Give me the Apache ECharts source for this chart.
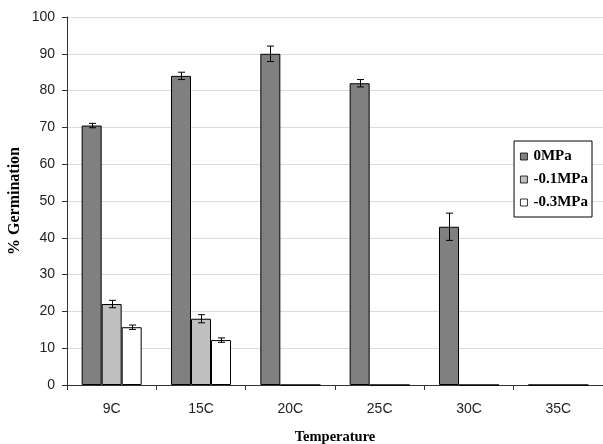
<!DOCTYPE html>
<html>
<head>
<meta charset="utf-8">
<script src="https://cdn.jsdelivr.net/npm/echarts@6/dist/echarts.min.js"></script>
<style>
  html, body { margin: 0; padding: 0; background: #fff; }
  #chart { width: 603px; height: 444px; }
</style>
</head>
<body>
<div id="chart"></div>
<script>
// Germination (%) by temperature and water potential
const temperatures = ['9C', '15C', '20C', '25C', '30C', '35C']
const seriesNames = ['0MPa', '-0.1MPa', '-0.3MPa']

const germ0 = [70.5, 84, 90, 82, 43, 0]
const germ01 = [22, 18, 0, 0, 0, 0]
const germ03 = [15.7, 12.2, 0, 0, 0, 0]

const err0 = [0.6, 1, 2.1, 1, 3.7, 0]
const err01 = [1, 1.1, 0, 0, 0, 0]
const err03 = [0.6, 0.6, 0, 0, 0, 0]

const yTicks = [0, 10, 20, 30, 40, 50, 60, 70, 80, 90, 100]

const barColors = ['#808080', '#c0c0c0', '#ffffff']
const BAR_W = 20

const chart = echarts.init(document.getElementById('chart'))

const values = [germ0, germ01, germ03]
const errors = [err0, err01, err03]

// error bar points: [category, mean, err, seriesIdx]
const errData = []
values.forEach((vals, s) => {
  vals.forEach((v, i) => {
    if (errors[s][i] > 0) errData.push([i, v, errors[s][i], s])
  })
})

const barSeries = seriesNames.map((name, s) => ({
  name,
  type: 'bar',
  data: values[s],
  barWidth: BAR_W,
  barGap: '0%',
  itemStyle: { color: barColors[s], borderColor: '#000', borderWidth: 1 },
  emphasis: { disabled: true }
}))

const option = {
  animation: false,
  grid: { left: 67, right: 0, top: 17, bottom: 59, outerBoundsMode: 'none' },
  legend: {
    orient: 'vertical',
    right: 11,
    top: 141,
    data: seriesNames,
    backgroundColor: '#fff',
    borderColor: '#000',
    borderWidth: 1,
    padding: [8, 4, 7, 6],
    itemWidth: 7,
    itemHeight: 7,
    itemGap: 8,
    icon: 'rect',
    itemStyle: { borderWidth: 0.8 },
    textStyle: {
      fontFamily: 'Liberation Serif',
      fontWeight: 'bold',
      fontSize: 15,
      lineHeight: 15,
      color: '#000',
      padding: [0, 0, 0, 1]
    }
  },
  xAxis: {
    type: 'category',
    data: temperatures,
    name: 'Temperature',
    nameLocation: 'middle',
    nameGap: 45,
    nameMoveOverlap: false,
    nameTextStyle: {
      fontFamily: 'Liberation Serif',
      fontWeight: 'bold',
      fontSize: 14.5,
      color: '#000'
    },
    axisLine: { lineStyle: { color: '#333', width: 1 } },
    axisTick: { show: true, length: 5, lineStyle: { color: '#333' } },
    axisLabel: {
      margin: 17,
      fontFamily: 'Liberation Sans',
      fontSize: 14,
      color: '#222'
    }
  },
  yAxis: {
    type: 'value',
    min: 0,
    max: 100,
    interval: 10,
    name: '% Germination',
    nameLocation: 'middle',
    nameGap: 44,
    nameMoveOverlap: false,
    nameTextStyle: {
      fontFamily: 'Liberation Serif',
      fontWeight: 'bold',
      fontSize: 16,
      color: '#000'
    },
    axisLine: { show: true, lineStyle: { color: '#333', width: 1 } },
    axisTick: { show: true, length: 5, lineStyle: { color: '#333' } },
    axisLabel: {
      margin: 12,
      fontFamily: 'Liberation Sans',
      fontSize: 14,
      color: '#222',
      formatter: v => (yTicks.includes(v) ? String(v) : '')
    },
    splitLine: { show: true, lineStyle: { color: '#dcdcdc', width: 1 } }
  },
  series: [
    ...barSeries,
    {
      type: 'custom',
      name: 'err',
      data: errData,
      z: 10,
      renderItem: (params, api) => {
        const cat = api.value(0)
        const mean = api.value(1)
        const e = api.value(2)
        const s = api.value(3)
        const off = (s - 1) * BAR_W
        const top = api.coord([cat, mean + e])
        const bot = api.coord([cat, mean - e])
        const x = Math.round(top[0] + off) + 0.5
        const cap = 3.5
        const style = { stroke: '#000', lineWidth: 1 }
        return {
          type: 'group',
          children: [
            { type: 'line', shape: { x1: x, y1: top[1], x2: x, y2: bot[1] }, style },
            { type: 'line', shape: { x1: x - cap, y1: top[1], x2: x + cap, y2: top[1] }, style },
            { type: 'line', shape: { x1: x - cap, y1: bot[1], x2: x + cap, y2: bot[1] }, style }
          ]
        }
      }
    }
  ]
}

chart.setOption(option)
</script>
</body>
</html>
